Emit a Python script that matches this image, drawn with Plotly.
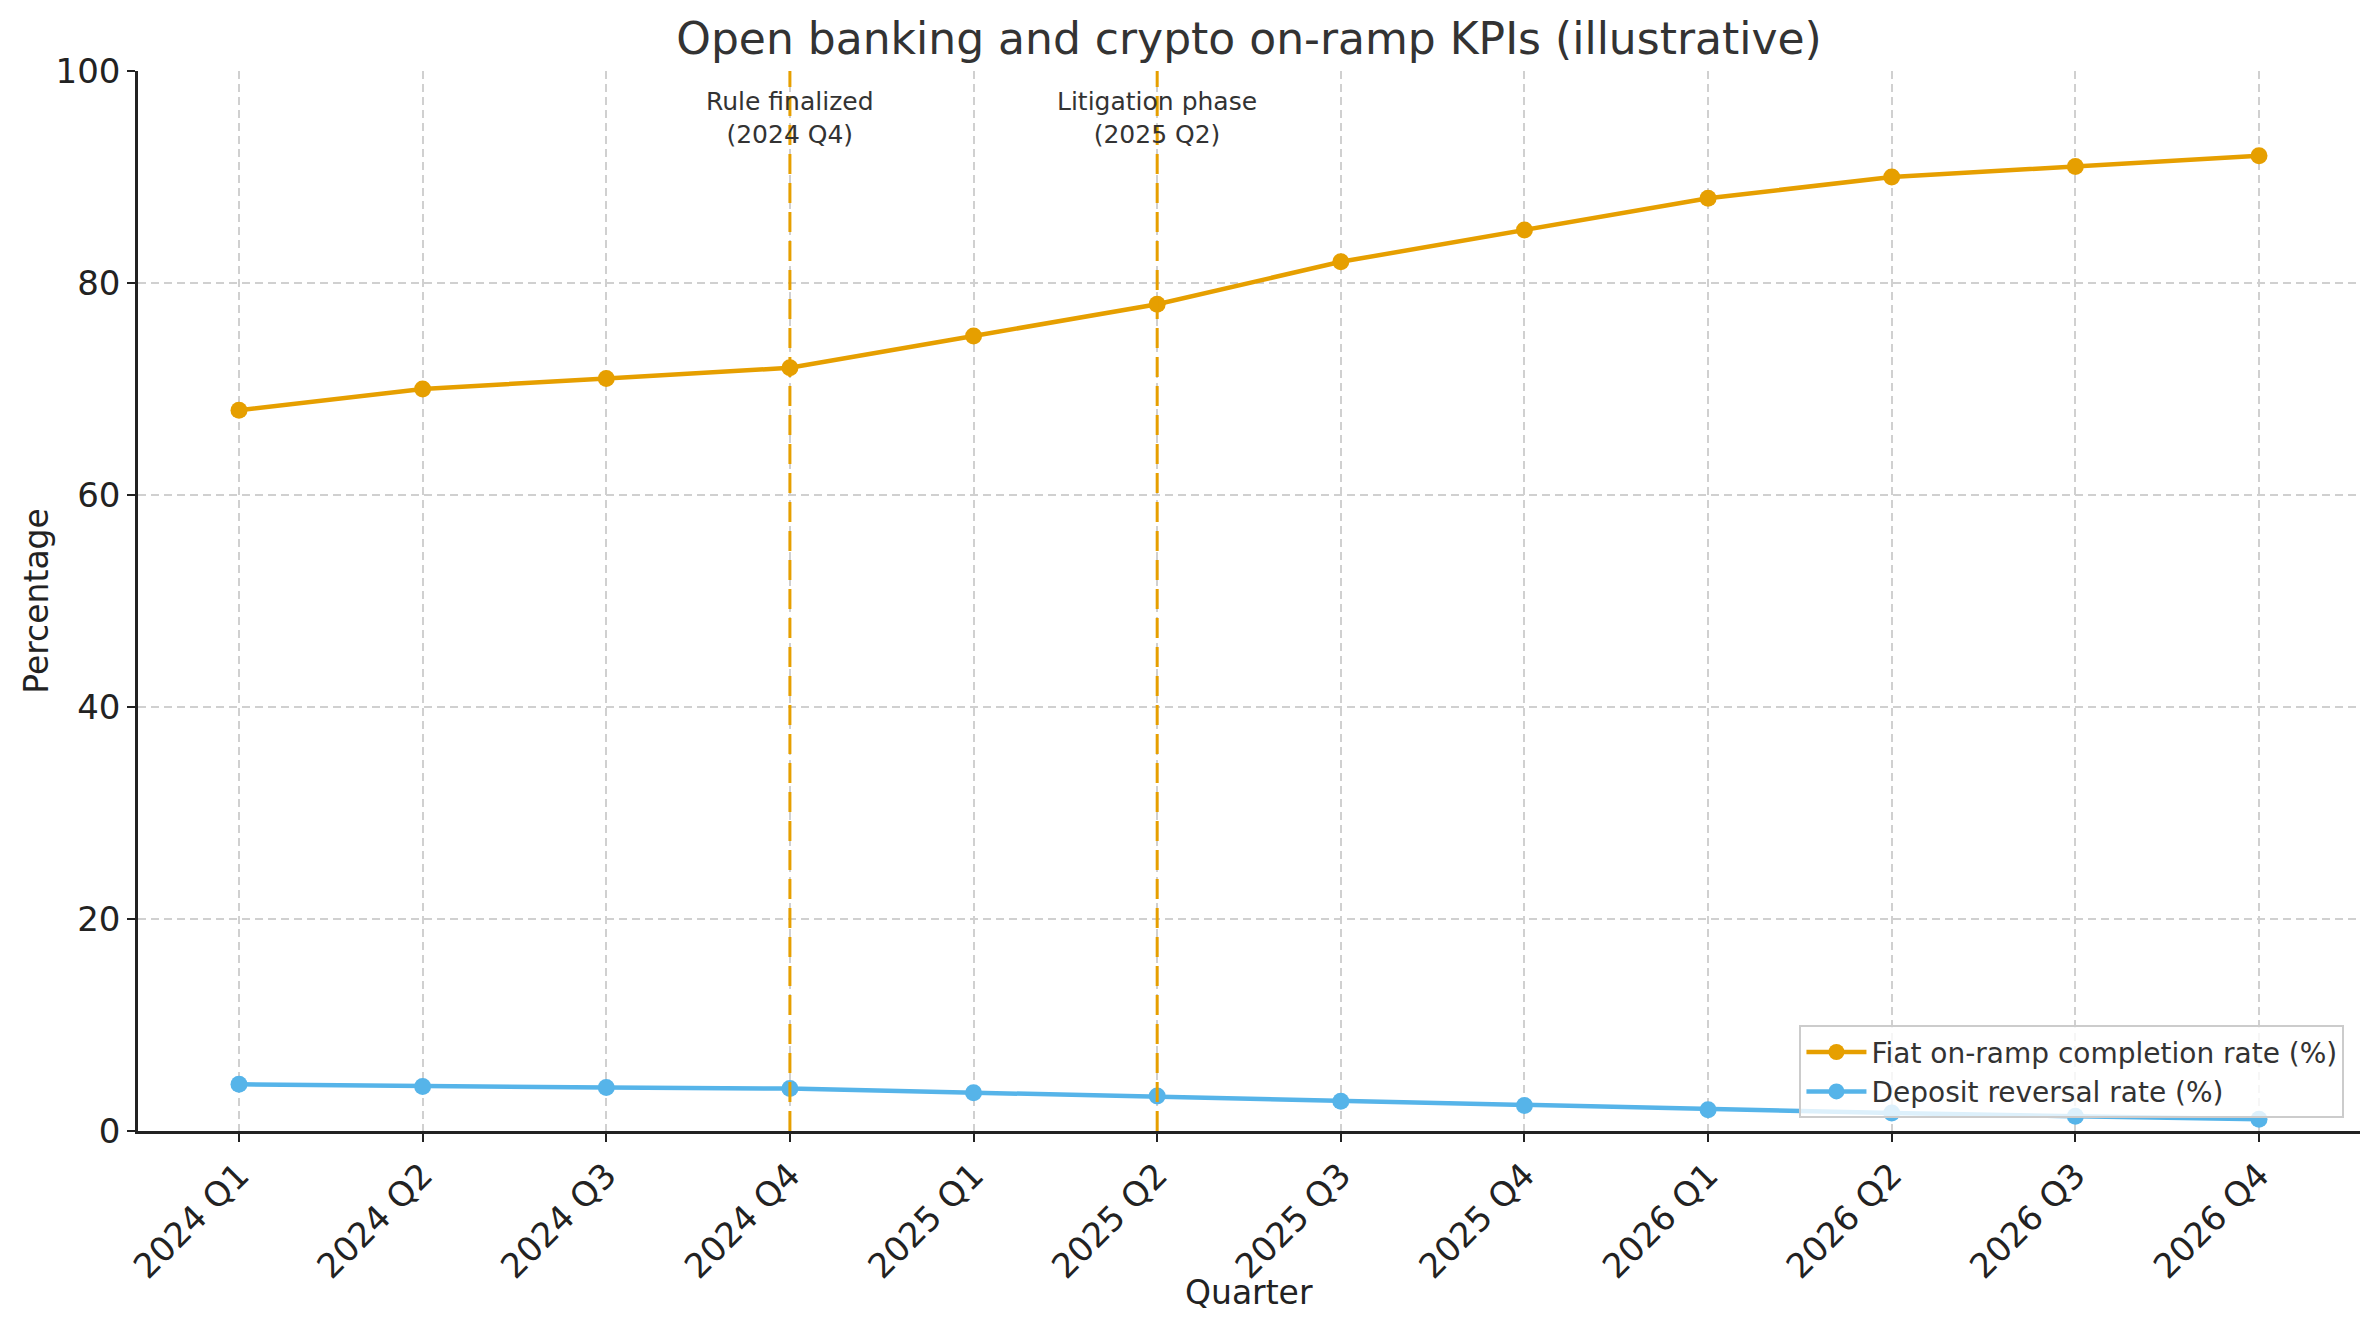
import plotly.graph_objects as go

# data
quarters = ["2024 Q1", "2024 Q2", "2024 Q3", "2024 Q4",
            "2025 Q1", "2025 Q2", "2025 Q3", "2025 Q4",
            "2026 Q1", "2026 Q2", "2026 Q3", "2026 Q4"]
fiat_completion = [68, 70, 71, 72, 75, 78, 82, 85, 88, 90, 91, 92]
deposit_reversal = [4.4, 4.2, 4.1, 4.0, 3.6, 3.3, 2.8, 2.4, 2.0, 1.7, 1.4, 1.1]

event_quarters = ["2024 Q4", "2025 Q2"]
event_labels = ["Rule finalized<br>(2024 Q4)", "Litigation phase<br>(2025 Q2)"]
event_label_y = 95.6

y_ticks = [0, 20, 40, 60, 80, 100]

ORANGE = "#E69F00"
BLUE = "#56B4E9"
FONT = "DejaVu Sans"

fig = go.Figure()
fig.add_trace(go.Scatter(x=quarters, y=fiat_completion, mode="lines+markers",
                         name="Fiat on-ramp completion rate (%)",
                         line=dict(color=ORANGE, width=4.5),
                         marker=dict(color=ORANGE, size=17)))
fig.add_trace(go.Scatter(x=quarters, y=deposit_reversal, mode="lines+markers",
                         name="Deposit reversal rate (%)",
                         line=dict(color=BLUE, width=4.5),
                         marker=dict(color=BLUE, size=17)))

# policy event markers
for q, label in zip(event_quarters, event_labels):
    fig.add_shape(type="line", xref="x", yref="y domain", x0=q, x1=q, y0=0, y1=1,
                  line=dict(color=ORANGE, width=3, dash="20px,9px"), layer="above")
    fig.add_annotation(x=q, y=event_label_y, text=label, showarrow=False,
                       xanchor="center", yanchor="middle",
                       font=dict(family=FONT, size=25, color="#333333"))

# axis titles placed by hand, plotly's standoff puts them a bit off
fig.add_annotation(text="Quarter", xref="paper", yref="paper", x=0.5, y=-0.152,
                   xanchor="center", yanchor="middle", showarrow=False,
                   font=dict(family=FONT, size=33, color="#222222"))
fig.add_annotation(text="Percentage", xref="paper", yref="paper", x=-0.046, y=0.5,
                   xanchor="center", yanchor="middle", showarrow=False, textangle=-90,
                   font=dict(family=FONT, size=33, color="#222222"))

fig.update_layout(
    width=2379, height=1330,
    margin=dict(l=138, r=19, t=71, b=199),
    plot_bgcolor="white", paper_bgcolor="white",
    font=dict(family=FONT, color="#222222"),
    title=dict(text="Open banking and crypto on-ramp KPIs (illustrative)",
               x=0.5, xref="paper", xanchor="center", y=0.971, yanchor="middle",
               font=dict(family=FONT, size=44, color="#333333")),
    legend=dict(x=0.993, y=0.012, xanchor="right", yanchor="bottom",
                bgcolor="rgba(255,255,255,0.8)", bordercolor="#cccccc", borderwidth=2,
                font=dict(family=FONT, size=28, color="#333333"), itemwidth=60),
    showlegend=True,
)

fig.update_xaxes(
    type="category", range=[-0.55, 11.55],
    tickangle=-45, tickfont=dict(family=FONT, size=34, color="#222222"),
    showline=True, linecolor="#222222", linewidth=2.5, mirror=False,
    ticks="outside", ticklen=8, tickwidth=2, tickcolor="#222222",
    showgrid=True, gridcolor="#d0d0d0", gridwidth=1.5, griddash="8px,5px",
    zeroline=False,
)
fig.update_yaxes(
    range=[0, 100], tickvals=y_ticks,
    tickfont=dict(family=FONT, size=34, color="#222222"),
    showline=True, linecolor="#222222", linewidth=2.5,
    ticks="outside", ticklen=8, tickwidth=2, tickcolor="#222222",
    showgrid=True, gridcolor="#d0d0d0", gridwidth=1.5, griddash="8px,5px",
    zeroline=False,
)

# drop the page's default body margin so the figure sits at the window corner
fig.write_html("out.html", config={"displayModeBar": False},
               post_script="document.body.style.margin = '0';")
